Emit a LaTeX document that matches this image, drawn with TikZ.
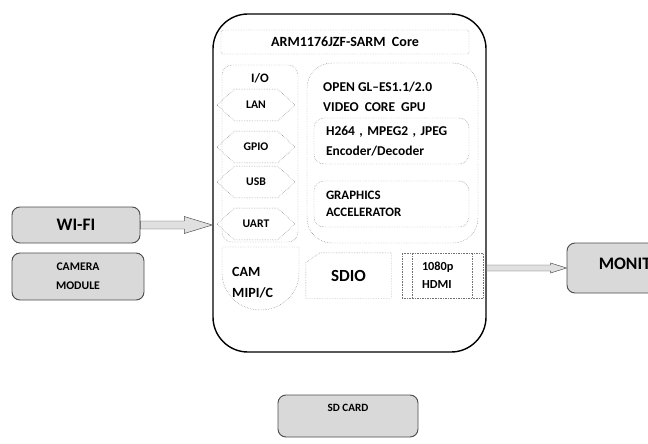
\documentclass[tikz,border=0pt]{standalone}
\usepackage{fontspec}
\setmainfont{Carlito}
\usepackage{tikz}
\usetikzlibrary{arrows.meta}
\usetikzlibrary{positioning}
\usetikzlibrary{shapes}
\usetikzlibrary{calc}
\tikzset{
  blknode/.style = {align=center, inner sep=0pt, text centered,
    font=\bfseries\fontsize{11}{15}\selectfont},
  dot_l/.style = {draw=black!55, densely dotted},% trait pointille
  blk_g/.style = {blknode, rectangle, rounded corners=0.24cm, draw=black!70,
    fill=black!15, thick},% bloc externe, gris
  blk_d/.style = {blknode, rectangle, dot_l},% bloc interne, pointille
  blk_h/.style = {blknode, signal, signal to=west and east, signal pointer angle=85,
    dot_l, minimum width=2.34cm, minimum height=0.95cm,
    font=\bfseries\fontsize{10}{12}\selectfont},% port, hexagone
  fat_a/.style n args = {3}{draw=black!70, fill=black!12, to path={
    ($(\tikztostart)+(0,-#1)$) -- ($(\tikztotarget)+(-#3,-#1)$)
    -- ($(\tikztotarget)+(-#3,-#2)$) -- (\tikztotarget)
    -- ($(\tikztotarget)+(-#3,#2)$) -- ($(\tikztotarget)+(-#3,#1)$)
    -- ($(\tikztostart)+(0,#1)$) -- cycle}}% fleche creuse
}

\begin{document}
\begin{tikzpicture}[x=0.03cm, y=-0.03cm]
\useasboundingbox (0,0) rectangle (648,443);
% processeur
\node [draw=black, line width=1.2pt, rounded corners=1.05cm,
  minimum width=8.19cm, minimum height=10.14cm] (main) at (349.5,183) {};
\node [blk_d, rounded corners=2pt, minimum width=7.44cm, minimum height=0.72cm,
  font=\bfseries\fontsize{12}{15}\selectfont]
  (arm) at (345,42) {ARM1176JZF-SARM\ \ Core};
% entrees / sorties
\node [blk_d, rounded corners=0.3cm, minimum width=2.28cm, minimum height=5.31cm]
  (io) at (260,153.5) {};
\node [blknode] (io_t) at (260,78) {I/O};
\node [blk_h] (lan) at (256,105) {LAN};
\node [blk_h] (gpio) at (256,147) {GPIO};
\node [blk_h] (usb) at (256,182) {USB};
\node [blk_h] (uart) at (256,224) {UART};
% gpu
\node [blk_d, rounded corners=0.75cm, minimum width=5.13cm, minimum height=5.4cm]
  (gpu) at (392.5,153) {};
\node [blknode, anchor=west, align=left, font=\bfseries\fontsize{11.5}{17}\selectfont]
  (gpu_t) at (323,97) {OPEN GL–ES1.1/2.0\\VIDEO\ \ CORE\ \ GPU};
\node [blk_d, rounded corners=0.3cm, minimum width=4.65cm, minimum height=1.38cm,
  text width=3.93cm, align=left, font=\bfseries\fontsize{11.5}{17}\selectfont]
  (codec) at (391.5,141) {H264 , MPEG2 , JPEG\\Encoder/Decoder};
\node [blk_d, rounded corners=0.3cm, minimum width=4.65cm, minimum height=1.38cm,
  text width=3.93cm, align=left, font=\bfseries\fontsize{11}{15}\selectfont]
  (gfx) at (391.5,204) {GRAPHICS\\ACCELERATOR};
% camera, sdio, hdmi
\node [blknode, anchor=west, align=left, font=\bfseries\fontsize{12}{18}\selectfont]
  (cam_t) at (232,283) {CAM\\MIPI/C};
\draw [dot_l] (222,247) -- (299,247) -- (299,273)
  arc[start angle=0, end angle=180, x radius=38.5, y radius=37] -- cycle;
\node [blknode, minimum width=2.55cm, minimum height=1.35cm,
  font=\bfseries\fontsize{14.5}{17}\selectfont] (sdio) at (348.5,275.5) {SDIO};
\draw [dot_l] ([xshift=0.42cm]sdio.north west) -- (sdio.north east)
  -- (sdio.south east) -- (sdio.south west) -- ([yshift=-0.3cm]sdio.north west) -- cycle;
\node [blk_d, minimum width=2.43cm, minimum height=1.35cm, text width=1.23cm,
  align=left, font=\bfseries\fontsize{10.5}{15}\selectfont]
  (hdmi) at (442.5,275.5) {1080p\\HDMI};
\draw [dot_l] ([xshift=0.3cm]hdmi.north west) -- ([xshift=0.3cm]hdmi.south west);
\draw [dot_l] ([xshift=-0.33cm]hdmi.north east) -- ([xshift=-0.33cm]hdmi.south east);
% peripheriques
\node [blk_g, minimum width=3.84cm, minimum height=1.08cm,
  font=\bfseries\fontsize{15}{18}\selectfont] (wifi) at (76,225) {WI-FI};
\node [blk_g, minimum width=3.96cm, minimum height=1.41cm,
  font=\bfseries\fontsize{10}{16}\selectfont] (camera) at (78,276.5) {CAMERA\\MODULE};
\node [blk_g, minimum width=4.11cm, minimum height=1.5cm, text height=0.3cm, text depth=0.24cm,
  font=\bfseries\fontsize{15}{18}\selectfont] (mon) at (635.5,268) {MONITOR};
\node [blk_g, minimum width=4.2cm, minimum height=1.26cm, text height=0.2cm, text depth=0.46cm,
  font=\bfseries\fontsize{9.5}{11}\selectfont] (sd) at (348,416) {SD CARD};
% fleches
\coordinate (wifi_in) at (main.west |- wifi.east);
\coordinate (hdmi_out) at (main.east |- mon.west);
\draw [fat_a={4}{8.5}{28}] (wifi.east) to (wifi_in);
\draw [fat_a={3}{5}{16}] (hdmi_out) to (mon.west);
\end{tikzpicture}
\end{document}
